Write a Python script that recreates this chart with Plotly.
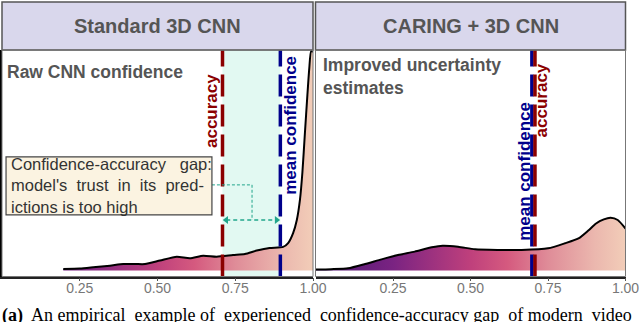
import plotly.graph_objects as go

# ---- data ----
conf_x_std = [0.197, 0.25, 0.293, 0.347, 0.39, 0.43, 0.46, 0.508, 0.562, 0.604, 0.647, 0.69,
              0.743, 0.781, 0.819, 0.86, 0.904, 0.92, 0.936, 0.948, 0.958, 0.966, 0.974,
              0.982, 0.988, 0.994, 1.0]
dens_std = [0.07, 0.09, 0.15, 0.23, 0.31, 0.31, 0.31, 0.48, 0.67, 0.59, 0.72, 0.67,
            0.75, 0.80, 0.97, 1.10, 1.15, 1.34, 1.83, 2.47, 3.45, 4.82, 6.73,
            8.6, 9.9, 10.75, 10.7]

conf_x_car = [0.0, 0.05, 0.105, 0.16, 0.213, 0.266, 0.32, 0.375, 0.41, 0.46, 0.515, 0.59,
              0.665, 0.75, 0.805, 0.85, 0.88, 0.905, 0.93, 0.952, 0.975, 1.0]
dens_car = [0.04, 0.06, 0.10, 0.31, 0.54, 0.75, 0.92, 1.13, 1.21, 1.16, 1.03, 1.00,
            1.00, 1.08, 1.33, 1.58, 1.95, 2.30, 2.50, 2.58, 2.47, 2.05]

acc_std, meanconf_std = 0.709, 0.895
acc_car, meanconf_car = 0.708, 0.698

panel_titles = ["Standard 3D CNN", "CARING + 3D CNN"]
tick_vals = [0.25, 0.50, 0.75, 1.00]
tick_text = ["0.25", "0.50", "0.75", "1.00"]

# ---- style ----
SANS = "Liberation Sans"
GRAD = [[0.0, "#4a1670"], [0.25, "#7a2382"], [0.5, "#bf407c"], [0.62, "#d55a7f"],
        [0.75, "#df8c98"], [0.9, "#ebb7ae"], [1.0, "#f2cdb8"]]
RED, BLUE, TEAL = "#8b0000", "#00008b", "#22a68c"
W, H = 640, 322
YR = [-0.3, 10.8]
YDOM = [1 - 276.5 / H, 1 - 50 / H]
XDOM = [[2 / W, 313 / W], [315.5 / W, 625.5 / W]]

fig = go.Figure()


def density(x, y, xa, ya):
    fig.add_trace(go.Scatter(
        x=x, y=y, xaxis=xa, yaxis=ya, mode="lines", fill="tozeroy",
        fillgradient=dict(type="horizontal", colorscale=GRAD, start=0, stop=1),
        line=dict(color="black", width=2, shape="spline", smoothing=0.6),
        hoverinfo="skip", showlegend=False))


def vline(v, color, xa, ya):
    fig.add_trace(go.Scatter(
        x=[v, v], y=YR, xaxis=xa, yaxis=ya, mode="lines",
        line=dict(color=color, width=3.5, dash="22px,8px"),
        hoverinfo="skip", showlegend=False))


# confidence-accuracy gap band (left panel)
fig.add_shape(type="rect", xref="x", yref="y", x0=acc_std, x1=meanconf_std,
              y0=YR[0], y1=YR[1], fillcolor="#e2f9f2", line_width=0, layer="below")

density(conf_x_std, dens_std, "x", "y")
density(conf_x_car, dens_car, "x2", "y2")

vline(acc_std, RED, "x", "y")
vline(meanconf_std, BLUE, "x", "y")
vline(meanconf_car, BLUE, "x2", "y2")
vline(acc_car, RED, "x2", "y2")

# connector from text box to double arrow
fig.add_trace(go.Scatter(
    x=[0.675, 0.804, 0.804], y=[4.19, 4.19, 2.47], xaxis="x", yaxis="y",
    mode="lines", line=dict(color=TEAL, width=1, dash="3px,2px"),
    hoverinfo="skip", showlegend=False))
fig.add_trace(go.Scatter(
    x=[acc_std + 0.012, meanconf_std - 0.012], y=[2.47, 2.47], xaxis="x", yaxis="y",
    mode="lines+markers", line=dict(color=TEAL, width=1.5, dash="4px,3px"),
    marker=dict(symbol=["triangle-left", "triangle-right"], size=7, color=TEAL),
    hoverinfo="skip", showlegend=False))

# text box
fig.add_shape(type="rect", xref="x", yref="y", x0=0.013, x1=0.675, y0=2.72, y1=5.56,
              fillcolor="#fbf3e1", line=dict(color="#444", width=1.2))
nb = "\u00a0"
box_text = ("Confidence-accuracy" + nb * 2 + " gap:<br>"
            "model's" + nb + " trust" + nb + " in" + nb + " its" + nb + " pred-<br>"
            "ictions is too high")
fig.add_annotation(xref="x", yref="y", x=0.0225, y=4.15, xanchor="left", yanchor="middle",
                   text=box_text, align="left", showarrow=False,
                   font=dict(family=SANS, size=16.5, color="#333"))

# panel strips
for (x0, x1), title in zip(XDOM, panel_titles):
    fig.add_shape(type="rect", xref="paper", yref="paper", x0=x0, x1=x1,
                  y0=1 - 50 / H, y1=1 - 2 / H, fillcolor="#d9d7ec",
                  line=dict(color="#555", width=1.5))
    fig.add_annotation(xref="paper", yref="paper", x=(x0 + x1) / 2, y=1 - 26 / H,
                       xanchor="center", yanchor="middle",
                       text="<b>" + title + "</b>", showarrow=False,
                       font=dict(family=SANS, size=20, color="#555"))
    fig.add_shape(type="rect", xref="paper", yref="paper", x0=x0, x1=x1,
                  y0=YDOM[0], y1=YDOM[1], line=dict(color="#777", width=1))

# panel subtitles
fig.add_annotation(xref="paper", yref="paper", x=5 / W, y=1 - 72 / H, xanchor="left",
                   yanchor="middle", text="<b>Raw CNN confidence</b>", showarrow=False,
                   font=dict(family=SANS, size=17.5, color="#555"))
fig.add_annotation(xref="paper", yref="paper", x=321 / W, y=1 - 77 / H, xanchor="left",
                   yanchor="middle", text="<b>Improved uncertainty<br>estimates</b>",
                   align="left", showarrow=False,
                   font=dict(family=SANS, size=17.5, color="#555"))

# vertical line labels
vlabels = [("x", "y", 0.674, 7.79, "accuracy", RED),
           ("x", "y", 0.929, 7.13, "mean confidence", BLUE),
           ("x2", "y2", 0.674, 4.85, "mean confidence", BLUE),
           ("x2", "y2", 0.732, 8.35, "accuracy", RED)]
for xr, yr, xv, yv, txt, col in vlabels:
    fig.add_annotation(xref=xr, yref=yr, x=xv, y=yv, text="<b>" + txt + "</b>",
                       textangle=-90, showarrow=False,
                       font=dict(family=SANS, size=17, color=col))

# caption
caption = ("<b>(a)</b>" + nb + " An empirical" + nb + " example of" + nb + " experienced"
           + nb + " confidence-accuracy gap" + nb + " of modern" + nb + " video")
fig.add_annotation(xref="paper", yref="paper", x=0, y=1 - 303 / H, xanchor="left",
                   yanchor="top", showarrow=False, text=caption,
                   font=dict(family="Liberation Serif", size=18, color="black"))

axis_x = dict(range=[0, 1], tickvals=tick_vals, ticktext=tick_text, ticks="outside",
              ticklen=3, tickcolor="#555", showgrid=False, zeroline=False,
              showline=True, linecolor="#222", linewidth=1.5, automargin=False,
              ticklabelstandoff=-5,
              tickfont=dict(family=SANS, size=14, color="#777"))
axis_y = dict(range=YR, domain=YDOM, showgrid=False, zeroline=False, automargin=False,
              showticklabels=False, ticks="")

fig.update_layout(
    width=W, height=H, margin=dict(l=0, r=0, t=0, b=0, pad=0), autosize=False,
    plot_bgcolor="white", paper_bgcolor="white", showlegend=False,
    xaxis=dict(axis_x, domain=XDOM[0], anchor="y"),
    yaxis=dict(axis_y, anchor="x", showline=True, linecolor="black", linewidth=2),
    xaxis2=dict(axis_x, domain=XDOM[1], anchor="y2"),
    yaxis2=dict(axis_y, anchor="x2", showline=False),
)

# the page has a default body margin; drop it so the figure sits at the corner
fit_js = ("document.body.style.margin='0';"
          "document.body.style.overflow='hidden';"
          "document.documentElement.style.overflow='hidden';")
fig.write_html("out.html", config={"displayModeBar": False}, post_script=fit_js)
